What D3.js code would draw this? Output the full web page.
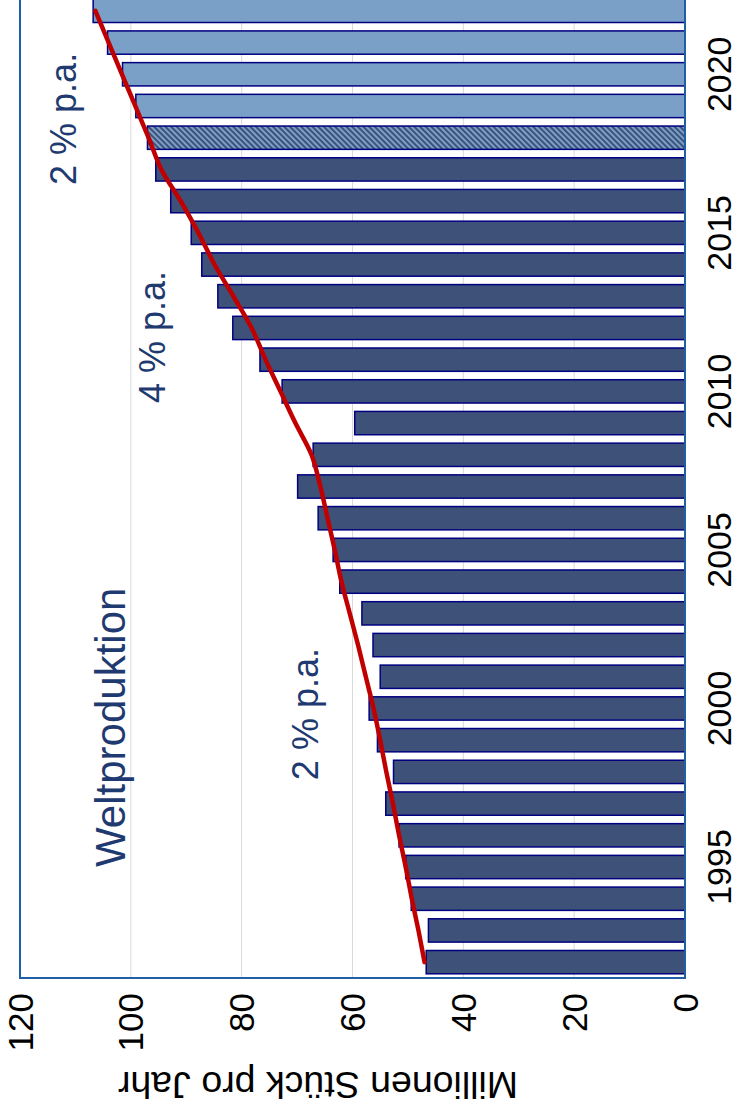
<!DOCTYPE html>
<html>
<head>
<meta charset="utf-8">
<script src="https://cdn.jsdelivr.net/npm/d3@7/dist/d3.min.js"></script>
<style>
  html, body { margin: 0; padding: 0; background: #ffffff; }
  svg { display: block; }
</style>
</head>
<body>
<script>
// ---- Data ----
const years = [1992,1993,1994,1995,1996,1997,1998,1999,2000,2001,2002,2003,2004,2005,2006,2007,2008,2009,2010,2011,2012,2013,2014,2015,2016,2017,2018,2019,2020,2021,2022];
const production = [46.7,46.3,49.4,50.4,51.6,54.0,52.6,55.5,57.0,55.0,56.3,58.3,62.3,63.5,66.2,69.9,67.1,59.6,72.7,76.7,81.6,84.3,87.2,89.1,92.8,95.5,97.0,99.1,101.5,104.2,106.8];
const barKind = ["actual","actual","actual","actual","actual","actual","actual","actual","actual","actual","actual","actual","actual","actual","actual","actual","actual","actual","actual","actual","actual","actual","actual","actual","actual","actual","estimate","forecast","forecast","forecast","forecast"];
const trend = [47.0,48.1,49.3,50.4,51.6,52.7,53.9,55.0,56.2,57.6,59.0,60.5,62.0,63.2,64.5,65.8,67.4,70.3,73.0,75.7,78.2,81.5,84.9,87.8,91.0,94.5,96.8,99.2,101.6,104.0,106.4];
const valueTicks = [0,20,40,60,80,100,120];
const yearTicks = [1995,2000,2005,2010,2015,2020];
const axisTitle = "Millionen Stück pro Jahr";
const annotations = [
  {text: "Weltproduktion", year: 1995.0, value: 101.0, size: 42},
  {text: "2 % p.a.", year: 1997.74, value: 66.2, size: 36},
  {text: "4 % p.a.", year: 2009.63, value: 93.8, size: 36},
  {text: "2 % p.a.", year: 2016.51, value: 109.9, size: 36}
];

const W = 739, H = 1111;
const font = "'Liberation Sans', Arial, sans-serif";
const navy = "#1f3a70";

const svg = d3.select("body").append("svg")
  .attr("width", W).attr("height", H);

// pattern for the hatched (estimate) bar
const defs = svg.append("defs");
const pat = defs.append("pattern")
  .attr("id", "hatch")
  .attr("patternUnits", "userSpaceOnUse")
  .attr("width", 4).attr("height", 4)
  .attr("patternTransform", "rotate(45)");
pat.append("rect").attr("width", 4).attr("height", 4).attr("fill", "#7aa0c8");
pat.append("rect").attr("width", 2).attr("height", 4).attr("fill", "#3e5279");

// Chart drawn in an unrotated frame (1111 wide x 739 tall), then rotated -90°
const g = svg.append("g").attr("transform", `translate(0,${H}) rotate(-90)`);

const plotX0 = 133, plotX1 = 1116, plotY0 = 20, plotY1 = 685;

const x = d3.scaleBand().domain(years).range([plotX0, plotX1])
  .paddingInner(0.265).paddingOuter(0.1325);
const y = d3.scaleLinear().domain([0, 120]).range([plotY1, plotY0]);

// annotation positions use a continuous year scale aligned with band centres
const xc = d3.scaleLinear()
  .domain([years[0], years[years.length - 1]])
  .range([x(years[0]) + x.bandwidth() / 2, x(years[years.length - 1]) + x.bandwidth() / 2]);

// gridlines
g.append("g").selectAll("line").data(valueTicks.filter(v => v > 0 && v < 120))
  .join("line")
  .attr("x1", plotX0).attr("x2", plotX1)
  .attr("y1", d => y(d)).attr("y2", d => y(d))
  .attr("stroke", "#d9d9d9").attr("stroke-width", 1);

// bars
const data = years.map((yr, i) => ({yr, v: production[i], kind: barKind[i], t: trend[i]}));
g.append("g").selectAll("rect").data(data).join("rect")
  .attr("x", d => x(d.yr))
  .attr("width", x.bandwidth())
  .attr("y", d => y(d.v))
  .attr("height", d => y(0) - y(d.v))
  .attr("fill", d => d.kind === "actual" ? "#3e5279" : d.kind === "estimate" ? "url(#hatch)" : "#7aa0c8")
  .attr("stroke", "#000080")
  .attr("stroke-width", 1.5);

// trend line
const line = d3.line()
  .x(d => x(d.yr) + x.bandwidth() / 2)
  .y(d => y(d.t))
  .curve(d3.curveMonotoneX);
g.append("path").datum(data)
  .attr("d", line)
  .attr("fill", "none")
  .attr("stroke", "#c00000")
  .attr("stroke-width", 4.5)
  .attr("stroke-linecap", "round");

// frame
g.append("rect")
  .attr("x", plotX0).attr("y", plotY0)
  .attr("width", plotX1 - plotX0).attr("height", plotY1 - plotY0)
  .attr("fill", "none")
  .attr("stroke", "#1f5fa8").attr("stroke-width", 2);

// value axis labels
g.append("g").selectAll("text").data(valueTicks).join("text")
  .attr("x", 118)
  .attr("y", d => y(d))
  .attr("dy", "0.36em")
  .attr("text-anchor", "end")
  .attr("font-family", font).attr("font-size", 35)
  .attr("fill", "#000")
  .text(d => d);

// year axis labels
g.append("g").selectAll("text").data(yearTicks).join("text")
  .attr("x", d => x(d) + x.bandwidth() / 2)
  .attr("y", 731)
  .attr("text-anchor", "middle")
  .attr("font-family", font).attr("font-size", 34)
  .attr("fill", "#000")
  .text(d => d);

// axis title
g.append("text")
  .attr("transform", "translate(39,318) rotate(-90)")
  .attr("text-anchor", "middle")
  .attr("font-family", font).attr("font-size", 37.5)
  .attr("fill", "#000")
  .text(axisTitle);

// annotations
g.append("g").selectAll("text").data(annotations).join("text")
  .attr("x", d => xc(d.year))
  .attr("y", d => y(d.value))
  .attr("font-family", font).attr("font-size", d => d.size)
  .attr("fill", navy)
  .text(d => d.text);
</script>
</body>
</html>
